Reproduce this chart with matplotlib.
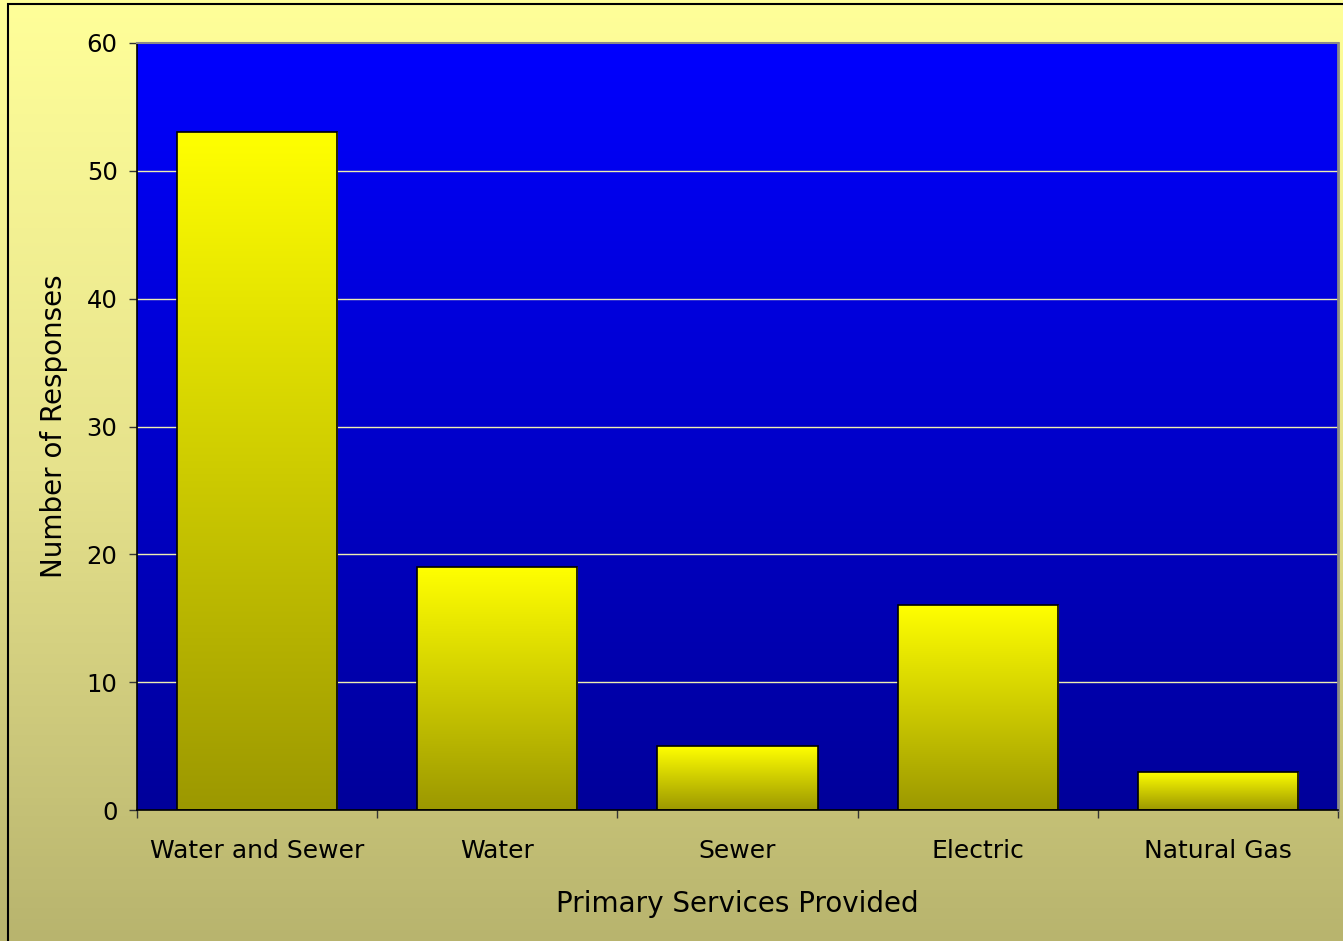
import matplotlib
matplotlib.use("Agg")
import matplotlib.pyplot as plt
import numpy as np
from matplotlib.colors import LinearSegmentedColormap
from matplotlib.patches import Rectangle

categories = ["Water and Sewer", "Water", "Sewer", "Electric", "Natural Gas"]
values = [53, 19, 5, 16, 3]
yticks = [0, 10, 20, 30, 40, 50, 60]
xlabel = "Primary Services Provided"
ylabel = "Number of Responses"

fig = plt.figure(figsize=(13.43, 9.41), dpi=100)

# figure background gradient
bg = fig.add_axes([0, 0, 1, 1], zorder=-10)
bg_cmap = LinearSegmentedColormap.from_list("bg", ["#B8B46E", "#E6E28C", "#FFFF99"])
bg.imshow(np.linspace(0, 1, 256).reshape(-1, 1), aspect="auto", cmap=bg_cmap,
          origin="lower", extent=[0, 1, 0, 1])
bg.set_xlim(0, 1); bg.set_ylim(0, 1)
bg.axis("off")
bg.add_patch(Rectangle((8 / 1343, -0.01), 1.1, 1 - 4 / 941 + 0.01, fill=False,
                       edgecolor="black", linewidth=1.5, transform=bg.transAxes))

ax = fig.add_axes([137 / 1343, 1 - 810 / 941, (1338 - 137) / 1343, (810 - 43) / 941])
n = len(categories)
x = np.arange(n)

plot_cmap = LinearSegmentedColormap.from_list("pl", ["#00009A", "#0000FF"])
ax.imshow(np.linspace(0, 1, 256).reshape(-1, 1), aspect="auto", cmap=plot_cmap,
          origin="lower", extent=[-0.5, n - 0.5, 0, 60], zorder=0)

for yv in yticks[1:-1]:
    ax.axhline(yv, color="#EEEEB0", linewidth=1, zorder=1)

bar_cmap = LinearSegmentedColormap.from_list("bar", ["#9C9800", "#FFFF00"])
width = 0.667
bars = ax.bar(x, values, width=width, color="none", edgecolor="black", linewidth=1.2, zorder=3)
for b in bars:
    x0, y0 = b.get_x(), b.get_y()
    w, h = b.get_width(), b.get_height()
    im = ax.imshow(np.linspace(0, 1, 256).reshape(-1, 1), aspect="auto", cmap=bar_cmap,
                   origin="lower", extent=[x0, x0 + w, y0, y0 + h], zorder=2)
    im.set_clip_path(b)
ax.set_xlim(-0.5, n - 0.5)
ax.set_ylim(0, 60)

ax.set_yticks(yticks)
ax.set_yticklabels([str(v) for v in yticks], fontsize=17.5)
ax.set_xticks(x)
ax.set_xticklabels(categories, fontsize=18)
ax.set_xticks(np.arange(n + 1) - 0.5, minor=True)
ax.tick_params(axis="x", which="major", length=0, pad=21)
ax.tick_params(axis="x", which="minor", length=6, width=1, color="#333333")
ax.tick_params(axis="y", length=6, width=1, color="#333333", pad=8)

for s in ["left", "bottom"]:
    ax.spines[s].set_color("black")
    ax.spines[s].set_linewidth(1.2)
ax.spines["top"].set_color("#8A8A8A")
ax.spines["top"].set_linewidth(1.5)
ax.spines["right"].set_color("#8A8A8A")
ax.spines["right"].set_linewidth(2)

ax.set_xlabel(xlabel, fontsize=20, labelpad=19)
ax.set_ylabel(ylabel, fontsize=20, labelpad=13)

fig.savefig("out.png", dpi=100)
